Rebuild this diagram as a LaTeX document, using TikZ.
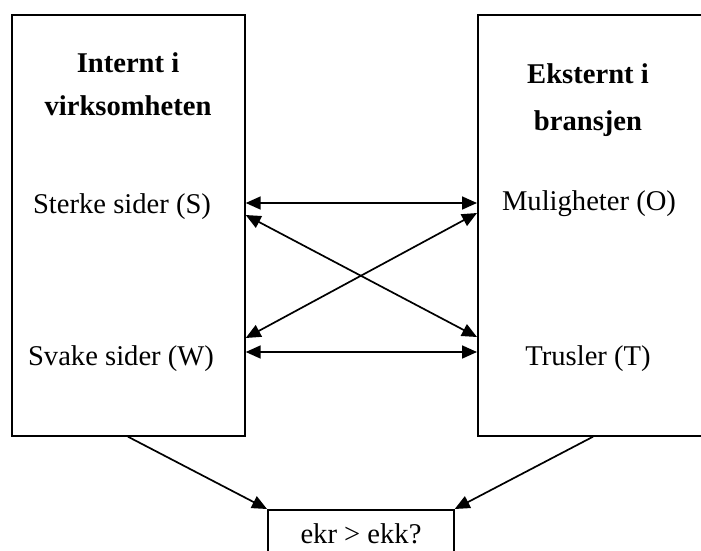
\documentclass[tikz,border=0pt]{standalone}
\usepackage{fontspec}
\setmainfont{Liberation Serif}
\usetikzlibrary{arrows.meta}
\begin{document}
\begin{tikzpicture}[x=1pt,y=-1pt,
  frame/.style={draw,line width=1.7pt,inner sep=0pt,anchor=north west},
  txt/.style={anchor=base,inner sep=0pt,font=\fontsize{28.6}{34}\selectfont},
  head/.style={anchor=base,inner sep=0pt,font=\fontsize{28.6}{34}\selectfont\bfseries},
  tip/.tip={Triangle[length=15pt,width=13pt]},
  link/.style={line width=1.7pt,-tip},
  both/.style={line width=1.7pt,tip-tip}]
\useasboundingbox (0,0) rectangle (701,550);
\clip (0,0) rectangle (701,550);

% the two analysis boxes and the comparison box
\node[frame,minimum width=233pt,minimum height=421pt] (L) at (11,14) {};
\node[frame,minimum width=240pt,minimum height=421pt] (R) at (477,14) {};
\node[frame,minimum width=186pt,minimum height=60pt] (B) at (267,509) {};

% texts
\node[head] (lh1) at (128,72) {Internt i};
\node[head] (lh2) at (128,115) {virksomheten};
\node[txt] (ls) at (122,213) {Sterke sider (S)};
\node[txt] (lw) at (121,365) {Svake sider (W)};
\node[head] (rh1) at (588,83) {Eksternt i};
\node[head] (rh2) at (588,130) {bransjen};
\node[txt] (ro) at (589,210) {Muligheter (O)};
\node[txt] (rt) at (588,365) {Trusler (T)};
\node[txt] (bq) at (361,543) {ekr > ekk?};

% attachment points on the box edges
\coordinate (L1) at ([yshift=-189pt]L.north east);
\coordinate (L2) at ([yshift=-201pt]L.north east);
\coordinate (L3) at ([yshift=-324pt]L.north east);
\coordinate (L4) at ([yshift=-338pt]L.north east);
\coordinate (R1) at ([yshift=-189pt]R.north west);
\coordinate (R2) at ([yshift=-199pt]R.north west);
\coordinate (R3) at ([yshift=-323pt]R.north west);
\coordinate (R4) at ([yshift=-338pt]R.north west);
\coordinate (Lb) at ([xshift=117pt]L.south west);
\coordinate (Rb) at ([xshift=116pt]R.south west);

% connectors
\draw[both] (L1) -- (R1);
\draw[both] (L2) -- (R3);
\draw[both] (L3) -- (R2);
\draw[both] (L4) -- (R4);
\draw[link] (Lb) -- (B.north west);
\draw[link] (Rb) -- (B.north east);
\end{tikzpicture}
\end{document}
